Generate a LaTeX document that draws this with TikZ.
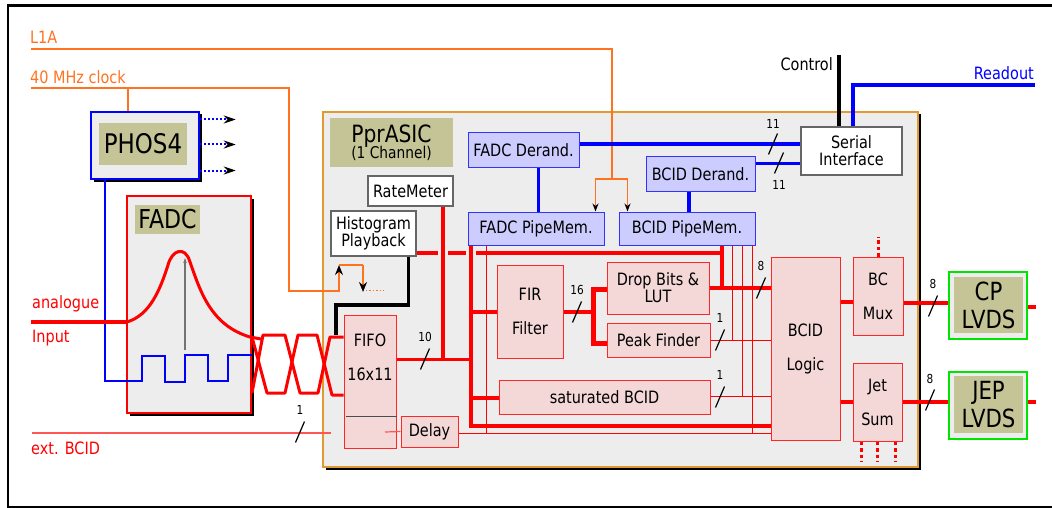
\documentclass[tikz,border=0pt]{standalone}
\usepackage{fontspec}
\setmainfont[FakeStretch=0.85]{DejaVu Sans}
\usetikzlibrary{arrows.meta, shadows, calc}

\begin{document}
\begin{tikzpicture}[
    x=1pt, y=-1pt,
    font=\fontsize{17}{17}\selectfont,
    box/.style={rectangle, inner sep=0pt, align=center},
    container/.style={box, fill=black!7, general shadow={fill=black, shadow xshift=2.5pt, shadow yshift=-2.5pt}},
    pinkblock/.style={box, draw=red!85, fill=pink1, line width=1pt},
    talltext/.style={font=\fontsize{17}{34}\selectfont},
    bluemem/.style={box, draw=blue!80, fill=blue!20, line width=1pt},
    whitebox/.style={box, draw=black!60, fill=white, line width=1.2pt},
    olive/.style={box, fill=olive1},
    lvds/.style={box, draw=green!90!black, fill=black!7, line width=1.4pt, minimum width=78pt, minimum height=67pt},
    bigtext/.style={font=\fontsize{25}{28}\selectfont},
    signal/.style={anchor=west, inner sep=0pt},
    bus/.style={draw=red, line width=3.3pt},
    wire/.style={draw=red, line width=0.8pt},
    bluebus/.style={draw=blue, line width=3.5pt},
    clockline/.style={draw=orange1, line width=1.4pt},
    clockarrow/.style={clockline, -{Stealth[black, length=8pt, width=6pt]}},
    histarrow/.style={clockline, -{Stealth[black, length=10pt, width=8pt]}},
    extline/.style={draw=extred, line width=1.2pt},
    reddots/.style={draw=red, line width=3pt, dash pattern=on 3.5pt off 3pt},
    slash/.style={draw=black, line width=1.2pt},
    buslabel/.style={inner sep=0pt, font=\fontsize{12.4}{12}\selectfont}
]
\definecolor{pink1}{HTML}{F4D7D7}
\definecolor{olive1}{HTML}{C4C496}
\definecolor{orange1}{HTML}{FF7320}
\definecolor{asicborder}{HTML}{E09A30}
\definecolor{extred}{HTML}{FF5555}
\useasboundingbox (0,0) rectangle (1052,508);
% ---------------- FRAME ----------------
\draw[line width=2.2pt] (1052,5.5) -- (8,5.5) -- (8,507) -- (1052,507);
% ---------------- CONTAINERS ----------------
\node[container, draw=asicborder, line width=1.3pt, minimum width=595pt, minimum height=355pt] (asic) at (620.5,289.5) {};
\node[container, draw=blue, line width=1.5pt, minimum width=108pt, minimum height=67pt] (phos) at (145,145.5) {};
\node[container, draw=red, line width=1.4pt, minimum width=124pt, minimum height=217pt] (fadc) at (189,304.5) {};
\node[olive, minimum width=88pt, minimum height=42pt, font=\fontsize{27}{26}\selectfont] (phoslabel) at (143,144) {PHOS4};
\node[olive, minimum width=65pt, minimum height=29pt, font=\fontsize{26}{26}\selectfont] (fadclabel) at (167.5,219.5) {FADC};
\node[olive, minimum width=123pt, minimum height=49pt] (asiclabel) at (391.5,142.5) {{\fontsize{23.8}{22}\selectfont PprASIC}\\[-2pt]{\fontsize{16.2}{14}\selectfont (1 Channel)}};
% ---------------- READOUT SIDE ----------------
\node[bluemem, minimum width=111pt, minimum height=34pt] (fadcderand) at (523.5,150) {FADC Derand.};
\node[bluemem, minimum width=109pt, minimum height=34pt] (bcidderand) at (700.5,174) {BCID Derand.};
\node[bluemem, minimum width=136pt, minimum height=33pt] (fadcpipe) at (536,228.5) {FADC PipeMem.};
\node[bluemem, minimum width=136pt, minimum height=33pt] (bcidpipe) at (687,228.5) {BCID PipeMem.};
\node[whitebox, minimum width=101pt, minimum height=48pt] (serial) at (851.5,151) {Serial\\Interface};
\node[whitebox, minimum width=85pt, minimum height=30pt] (ratemeter) at (410.5,191) {RateMeter};
\node[whitebox, minimum width=85pt, minimum height=45pt] (histogram) at (373.5,233.5) {Histogram\\Playback};
% ---------------- DATA PATH ----------------
\node[pinkblock, talltext, minimum width=52pt, minimum height=133pt] (fifo) at (370,381.5) {FIFO\\16x11\\[14pt]\mbox{}};
\node[pinkblock, minimum width=57pt, minimum height=31pt] (delay) at (429.5,431.5) {Delay};
\node[pinkblock, talltext, minimum width=66pt, minimum height=93pt] (fir) at (530,311.5) {FIR\\Filter};
\node[pinkblock, minimum width=102pt, minimum height=52pt] (dropbits) at (658,288) {Drop Bits \&\\LUT};
\node[pinkblock, minimum width=103pt, minimum height=34pt] (peak) at (658.5,340) {Peak Finder};
\node[pinkblock, minimum width=211pt, minimum height=34pt] (saturated) at (604.5,397) {saturated BCID};
\node[pinkblock, talltext, minimum width=69pt, minimum height=183pt] (logic) at (805.5,348.5) {BCID\\Logic};
\node[pinkblock, talltext, minimum width=50pt, minimum height=78pt] (bcmux) at (878,296) {BC\\Mux};
\node[pinkblock, talltext, minimum width=49pt, minimum height=78pt] (jetsum) at (877.5,402) {Jet\\Sum};
% ---------------- OUTPUT DRIVERS ----------------
\node[lvds] (cp) at (988,305.5) {};
\node[lvds] (jep) at (988,405.5) {};
\node[olive, bigtext, minimum width=69pt, minimum height=56pt] (cplabel) at (988.5,305) {CP\\LVDS};
\node[olive, bigtext, minimum width=69pt, minimum height=57pt] (jeplabel) at (988.5,404.5) {JEP\\LVDS};
% ---------------- SIGNAL NAMES ----------------
\node[signal, text=orange1] (l1atext) at (30,37) {L1A};
\node[signal, text=orange1] (clocktext) at (30,77) {40 MHz clock};
\node[signal, text=red] (analoguetext) at (32,304) {analogue};
\node[signal, text=red] (inputtext) at (32,338) {Input};
\node[signal, text=red] (exttext) at (31,448) {ext. BCID};
\node[signal, anchor=east] (controltext) at (833,64) {Control};
\node[signal, anchor=east, text=blue] (readouttext) at (1034,73) {Readout};
% free ends and junctions
\coordinate (l1astart) at (31,49);
\coordinate (l1acorner) at (612,49);
\coordinate (l1afork) at (612,179);
\coordinate (clockstart) at (31,88);
\coordinate (clockcorner) at (289,88);
\coordinate (clockbend) at (339,291);
\coordinate (histin) at (339,265);
\coordinate (histout) at (363,265);
\coordinate (histfree) at (363,292);
\coordinate (inputstart) at (31,322);
\coordinate (extstart) at (32,433);
\coordinate (extend) at (331,433);
\coordinate (controlend) at (839,55);
\coordinate (readoutend) at (1035,85);
\coordinate (fifoout) at (443,359.5);
\coordinate (topbus) at (722,253);
\coordinate (lowbus) at (471,426);
\coordinate (thinbus) at (486,433);
\coordinate (firfork) at (593,312);
% ---------------- CLOCK AND TRIGGER ----------------
\draw[clockline] (l1astart) -- (l1acorner) -- (l1afork);
\draw[clockarrow] (l1afork) -| ($(fadcpipe.north east)+(-9,0)$);
\draw[clockarrow] (l1afork) -| ($(bcidpipe.north west)+(9,0)$);
\draw[histarrow] (clockstart) -- (clockcorner) |- (clockbend) -- (histin);
\draw[clockline] (histin) -- (histout);
\draw[histarrow] (histout) -- (histfree);
\draw[clockline, dotted, line width=1.6pt] (366,290.5) -- (385,290.5);
\draw[clockline] (phos.north -| 128,0) -- (128,88);
% ---------------- PHOS4 OUTPUTS ----------------
\foreach \y in {119.5,144.5,170.5} {
  \draw[blue, line width=2pt, dash pattern=on 2.5pt off 1.5pt, -{Stealth[black, length=12pt, width=8pt]}] (phos.east |- 0,\y) -- ++(36,0);
}
\draw[blue, line width=1.3pt] (105,179) -- (105,381) -- (142,381) -- (142,356) -- (165,356) -- (165,382) -- (185,382) -- (185,355) -- (208,355) -- (208,381) -- (228,381) -- (228,355) -- (fadc.east |- 0,355);
% ---------------- FADC INPUT ----------------
\draw[-{Stealth[length=5pt, width=3.5pt]}, draw=black!55, line width=1.2pt] (185,350) -- (185,258);
\draw[bus] (inputstart) -- (127,322);
\draw[red, line width=3pt] (127,322) .. controls (150,315) and (160,290) .. (168,265) .. controls (172,250) and (185,245) .. (190,262) .. controls (200,290) and (210,325) .. (250,337) -- (261,339);
\draw[red, line width=3pt, line join=round] (252,337) -- (267,393) -- (285,393) -- (298,335) -- (317,335) -- (332,395) -- (fifo.west |- 0,395);
\draw[red, line width=3pt, line join=round] (252,393) -- (263,335) -- (285,335) -- (300,393) -- (318,393) -- (330,337) -- (fifo.west |- 0,337);
\draw[extline] (extstart) -- (extend);
\draw[extline] (385,432) -- (delay.west);
\draw[black!70, line width=1pt] (346,416) -- (fifo.east |- 0,416);
% ---------------- WIRING INSIDE ASIC ----------------
\draw[line width=3.2pt] (histogram.south -| 408.5,0) -- (408.5,305) -- (336,305) -- (336,335);
\draw[bus, dash pattern=on 21pt off 10pt on 18pt off 10pt on 246pt] (histogram.east |- topbus) -- (topbus);
\draw[bus] (fifo.east |- fifoout) -- (471,359.5);
\draw[bus] (ratemeter.south -| 443,0) -- (fifoout);
\draw[bus] (fadcpipe.south -| 471,0) -- (lowbus) -- (logic.west |- lowbus);
\draw[bus] (471,312) -- (fir.west |- 0,312);
\draw[bus] (471,398) -- (saturated.west |- 0,398);
\draw[wire] (delay.east |- thinbus) -- (logic.west |- thinbus);
\draw[wire] (fadcpipe.south -| thinbus) -- (thinbus);
\draw[wire] (bcidpipe.south -| 752,0) -- (752,433);
\draw[wire] (bcidpipe.south -| 732,0) -- (732,340);
\draw[wire] (bcidpipe.south -| 742,0) -- (742,396);
\draw[wire] (peak.east) -- (logic.west |- peak);
\draw[wire] (saturated.east |- 0,396) -- (logic.west |- 0,396);
\draw[bus] (fir.east |- firfork) -- (firfork);
\draw[red, line width=5pt] (dropbits.west |- 0,289) -- (firfork |- 0,289) -- (firfork |- 0,343) -- (peak.west |- 0,343);
\draw[bus] (dropbits.east |- 0,288) -- (logic.west |- 0,288);
\draw[bus] (bcidpipe.south -| topbus) -- (722,288);
\draw[bus] (logic.east |- 0,302) -- (bcmux.west |- 0,302);
\draw[bus] (logic.east |- 0,402) -- (jetsum.west);
\draw[bus] (bcmux.east |- 0,303) -- (cp.west |- 0,303);
\draw[bus] (jetsum.east) -- (jep.west |- 0,402);
\draw[bus] (cp.east |- 0,307) -- ++(8,0);
\draw[bus] (jep.east |- 0,402) -- ++(8,0);
\draw[reddots] (bcmux.north) -- ++(0,-20);
\foreach \x in {861,877,895} {
  \draw[reddots] (jetsum.south -| \x,0) -- ++(0,20);
}
% ---------------- READOUT WIRING ----------------
\draw[bluebus] (fadcderand.east |- 0,144) -- (serial.west |- 0,144);
\draw[bluebus] (bcidderand.east |- 0,163.5) -- (serial.west |- 0,163.5);
\draw[bluebus] (fadcderand.south -| 538.5,0) -- (fadcpipe.north -| 538.5,0);
\draw[bluebus] (bcidderand.south -| 689,0) -- (bcidpipe.north -| 689,0);
\draw[line width=3.5pt] (controlend) -- (serial.north -| controlend);
\draw[bluebus] (serial.north -| 853,0) -- (853,85) -- (readoutend);
% ---------------- BUS WIDTH MARKS ----------------
\foreach \x/\y/\off/\n in {425/359/-22/10, 577/312/-22/16, 761/288/-22/8, 720/340/-22/1, 720/397/-22/1, 773/144/-20/11, 779/163/22/11, 933/306/-22/8, 930/400/-21/8, 300/432/-22/1} {
  \draw[slash] (\x-4.5,\y+10.5) -- (\x+4.5,\y-10.5);
  \node[buslabel] (mark\x) at (\x,\y+\off) {\n};
}
\end{tikzpicture}
\end{document}
